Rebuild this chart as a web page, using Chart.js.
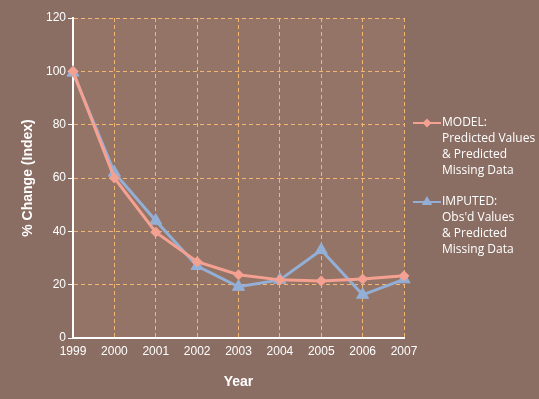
<!DOCTYPE html>
<html>
<head>
<meta charset="utf-8">
<script src="https://cdn.jsdelivr.net/npm/chart.js@4"></script>
<style>
  html, body { margin: 0; padding: 0; background: #8b6e63; }
  #wrap { width: 539px; height: 399px; }
</style>
</head>
<body>
<div id="wrap"><canvas id="myChart" width="539" height="399"></canvas></div>
<script>
const years = ['1999', '2000', '2001', '2002', '2003', '2004', '2005', '2006', '2007'];
const modelValues = [100, 60, 39.7, 28.6, 23.7, 21.8, 21.4, 22.1, 23.3];
const imputedValues = [99.5, 62, 44, 27, 19.2, 21.8, 33, 16.2, 22];
const legendModel = ['MODEL:', 'Predicted Values', '& Predicted', 'Missing Data'];
const legendImputed = ['IMPUTED:', "Obs'd Values", '& Predicted', 'Missing Data'];

const pinkColor = '#f4a192';
const blueColor = '#94afd5';
const gridColor = '#f2b672';
const axisFont = 'Arial, "Liberation Sans", sans-serif';

// plot background + custom multi-line legend
const plotBg = {
  id: 'plotBg',
  beforeDraw(chart) {
    const { ctx, chartArea } = chart;
    ctx.save();
    ctx.fillStyle = '#947467';
    ctx.fillRect(chartArea.left, chartArea.top, chartArea.right - chartArea.left, chartArea.bottom - chartArea.top);
    ctx.restore();
  },
  afterDraw(chart) {
    const ctx = chart.ctx;
    const drawEntry = (y, lines, color, style, radius) => {
      ctx.save();
      ctx.strokeStyle = color;
      ctx.lineWidth = 2;
      ctx.beginPath();
      ctx.moveTo(413, y);
      ctx.lineTo(441, y);
      ctx.stroke();
      ctx.fillStyle = color;
      Chart.helpers.drawPoint(ctx, { pointStyle: style, radius: radius, borderWidth: 1 }, 427, y);
      ctx.fillStyle = '#ffffff';
      ctx.font = '12px "Open Sans", sans-serif';
      ctx.textBaseline = 'middle';
      lines.forEach((t, i) => ctx.fillText(t, 442, y + i * 16));
      ctx.restore();
    };
    drawEntry(123, legendModel, pinkColor, 'rectRot', 3);
    drawEntry(202, legendImputed, blueColor, 'triangle', 4);
  }
};

const ctx = document.getElementById('myChart').getContext('2d');
new Chart(ctx, {
  type: 'line',
  data: {
    labels: years,
    datasets: [
      {
        label: 'MODEL: Predicted Values & Predicted Missing Data',
        data: modelValues,
        borderColor: pinkColor,
        backgroundColor: pinkColor,
        borderWidth: 3,
        pointStyle: 'rectRot',
        pointRadius: 5,
        pointBorderWidth: 1,
        tension: 0
      },
      {
        label: "IMPUTED: Obs'd Values & Predicted Missing Data",
        data: imputedValues,
        borderColor: blueColor,
        backgroundColor: blueColor,
        borderWidth: 3,
        pointStyle: 'triangle',
        pointRadius: 7,
        pointBorderWidth: 1,
        tension: 0
      }
    ]
  },
  options: {
    responsive: false,
    animation: false,
    devicePixelRatio: 1,
    layout: {
      padding: { left: 20, right: 135, top: 18, bottom: 8 }
    },
    plugins: {
      legend: { display: false },
      tooltip: { enabled: false }
    },
    scales: {
      x: {
        offset: false,
        border: { display: true, color: '#ffffff', width: 2, dash: [4, 3] },
        grid: {
          color: gridColor,
          drawTicks: false,
          lineWidth: 1
        },
        ticks: {
          color: '#ffffff',
          padding: 6,
          maxRotation: 0,
          font: { family: axisFont, size: 12 }
        },
        title: {
          display: true,
          text: 'Year',
          color: '#ffffff',
          padding: { top: 8, bottom: 0 },
          font: { family: axisFont, size: 14, weight: 'bold' }
        },
        afterFit(scale) { scale.height = 53; }
      },
      y: {
        min: 0,
        max: 120,
        border: { display: true, color: '#ffffff', width: 2, dash: [4, 3] },
        grid: {
          color: gridColor,
          tickColor: '#ffffff',
          tickBorderDash: [],
          tickLength: 5,
          lineWidth: 1
        },
        ticks: {
          stepSize: 20,
          color: '#ffffff',
          padding: 2,
          font: { family: axisFont, size: 12 }
        },
        title: {
          display: true,
          text: '% Change (Index)',
          color: '#ffffff',
          padding: { top: 0, bottom: 0 },
          font: { family: axisFont, size: 14, weight: 'bold' }
        },
        afterFit(scale) { scale.width = 53; }
      }
    }
  },
  plugins: [plotBg]
});
</script>
</body>
</html>
